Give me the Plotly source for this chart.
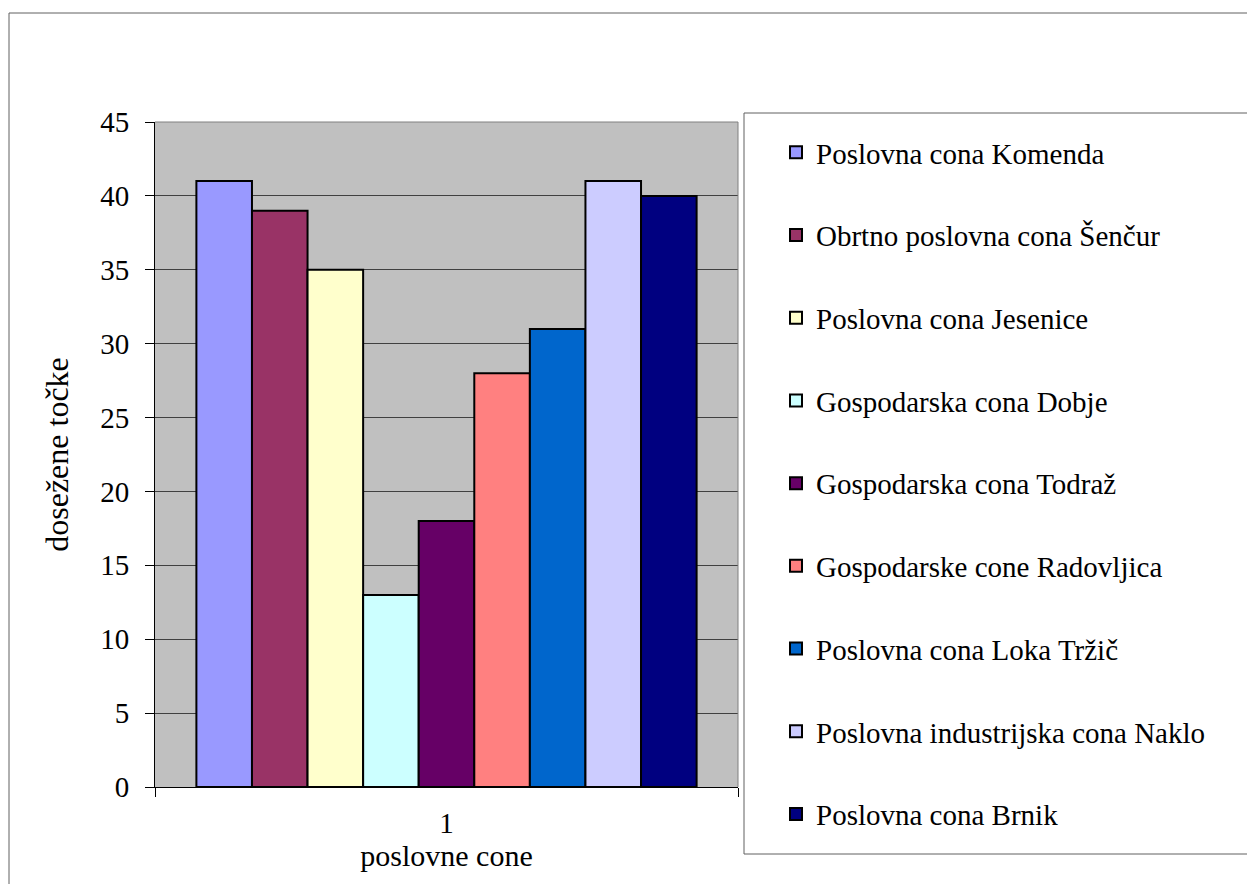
import plotly.graph_objects as go

categories = ["1"]
names = [
    "Poslovna cona Komenda",
    "Obrtno poslovna cona Šenčur",
    "Poslovna cona Jesenice",
    "Gospodarska cona Dobje",
    "Gospodarska cona Todraž",
    "Gospodarske cone Radovljica",
    "Poslovna cona Loka Tržič",
    "Poslovna industrijska cona Naklo",
    "Poslovna cona Brnik",
]
values = [41, 39, 35, 13, 18, 28, 31, 41, 40]
colors = ["#9999FF", "#993366", "#FFFFCC", "#CCFFFF", "#660066",
          "#FF8080", "#0066CC", "#CCCCFF", "#000080"]
y_ticks = [0, 5, 10, 15, 20, 25, 30, 35, 40, 45]

FONT = "Liberation Serif, Times New Roman, serif"

fig = go.Figure()
for i, (n, v, c) in enumerate(zip(names, values, colors)):
    fig.add_trace(go.Bar(
        x=categories, y=[v], name=n, legendgroup=f"g{i}",
        marker=dict(color=c, line=dict(color="black", width=2)),
    ))

OFF = 8  # page body margin
W, H = 1255 - OFF, 884 - OFF
L, R, T, B = 155 - OFF, 738 - OFF, 122 - OFF, 787 - OFF
pw, ph = R - L, B - T

def px(x):
    return (x - OFF - L) / pw

def py(y):
    return (B - (y - OFF)) / ph

shapes = [
    # outer chart border
    dict(type="rect", xref="paper", yref="paper", x0=px(9), x1=px(1300),
         y0=py(950), y1=py(13), line=dict(color="#606060", width=1), layer="below"),
    # legend box
    dict(type="rect", xref="paper", yref="paper", x0=px(744), x1=px(1300),
         y0=py(854), y1=py(113), line=dict(color="#606060", width=1), layer="below"),
    # plot area border (top, right)
    dict(type="line", xref="paper", yref="paper", x0=0, x1=1, y0=1, y1=1,
         line=dict(color="#808080", width=1)),
    dict(type="line", xref="paper", yref="paper", x0=1, x1=1, y0=0, y1=1,
         line=dict(color="#808080", width=1)),
]

fig.update_layout(
    width=W, height=H, autosize=False,
    margin=dict(l=L, r=W - R, t=T, b=H - B, pad=0),
    paper_bgcolor="white", plot_bgcolor="#C0C0C0",
    font=dict(family=FONT, size=29, color="black"),
    barmode="group", bargap=0.142, bargroupgap=0,
    showlegend=True,
    legend=dict(x=px(776), y=py(127), xanchor="left", yanchor="top",
                bgcolor="rgba(0,0,0,0)", borderwidth=0,
                font=dict(family=FONT, size=29, color="black"),
                tracegroupgap=42, itemwidth=30, traceorder="grouped",
                maxheight=2000),
    shapes=shapes,
)
fig.update_xaxes(
    type="category", showline=True, linecolor="black", linewidth=1,
    ticks="outside", ticklen=9, tickcolor="black", tickson="boundaries",
    showgrid=False, ticklabelstandoff=10,
    title=dict(text="poslovne cone", standoff=2,
               font=dict(family=FONT, size=30, color="black")),
    tickfont=dict(family=FONT, size=29, color="black"),
)
fig.update_yaxes(
    range=[0, 45], tickvals=y_ticks, showline=True, linecolor="black",
    linewidth=1, ticks="outside", ticklen=9, tickcolor="black",
    showgrid=True, gridcolor="#404040", gridwidth=1, zeroline=False,
    ticklabelstandoff=10,
    title=dict(text="dosežene točke", standoff=22,
               font=dict(family=FONT, size=32, color="black")),
    tickfont=dict(family=FONT, size=29, color="black"),
)

fig.write_html("out.html")
